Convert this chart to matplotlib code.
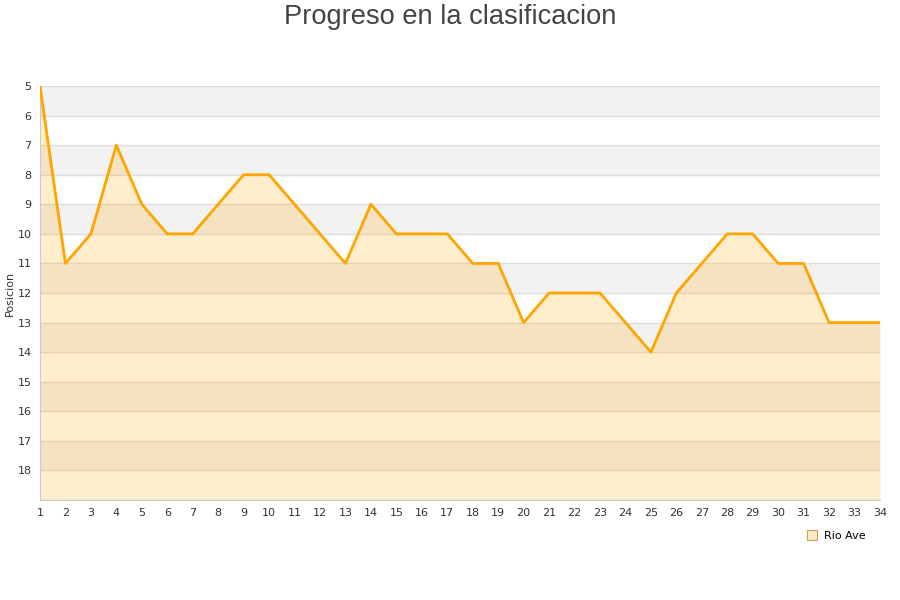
import numpy as np
import matplotlib
matplotlib.use('Agg')
from matplotlib import pyplot as plt

jornadas = list(range(1, 35))
posiciones = [5, 11, 10, 7, 9, 10, 10, 9, 8, 8, 9, 10, 11, 9, 10, 10, 10, 11, 11,
              13, 12, 12, 12, 13, 14, 12, 11, 10, 10, 11, 11, 13, 13, 13]
equipo = 'Rio Ave'
y_ticks = list(range(5, 19))

fig = plt.figure(figsize=(9, 6), dpi=100)
ax = fig.add_axes([40/900, 100/600, 840/900, 414/600])

# alternating bands
for k in range(5, 19):
    if (k - 5) % 2 == 0:
        ax.axhspan(k, k + 1, color='#f2f2f2', zorder=0, lw=0)
for k in range(5, 20):
    ax.axhline(k, color='#dddddd', lw=1, zorder=1)

ax.fill_between(jornadas, posiciones, 19, color='#ffa500', alpha=0.2, lw=0, zorder=2)
ax.plot(jornadas, posiciones, color='#ffa500', lw=2, zorder=3)

ax.set_xlim(1, 34)
ax.set_ylim(19, 5)
ax.set_xticks(jornadas)
ax.set_yticks(y_ticks)
ax.tick_params(length=0, labelsize=8, colors='#333333', pad=6)
for side in ['top', 'right']:
    ax.spines[side].set_visible(False)
for side in ['left', 'bottom']:
    ax.spines[side].set_color('#cccccc')
ax.set_ylabel('Posicion', fontsize=8, color='#333333', labelpad=2)
fig.text(0.5, 0.993, 'Progreso en la clasificacion', ha='center', va='top',
         fontsize=19.6, color='#444444', family='Liberation Sans')

ax.plot([], [], 's', ms=7, mfc='#fde9c4', mec='#c8a060', mew=0.8, label=equipo)
ax.legend(loc='upper right', bbox_to_anchor=(0.995, -0.05), frameon=False,
          fontsize=8, handlelength=1, handletextpad=0.6)

fig.savefig('out.png', dpi=100)
